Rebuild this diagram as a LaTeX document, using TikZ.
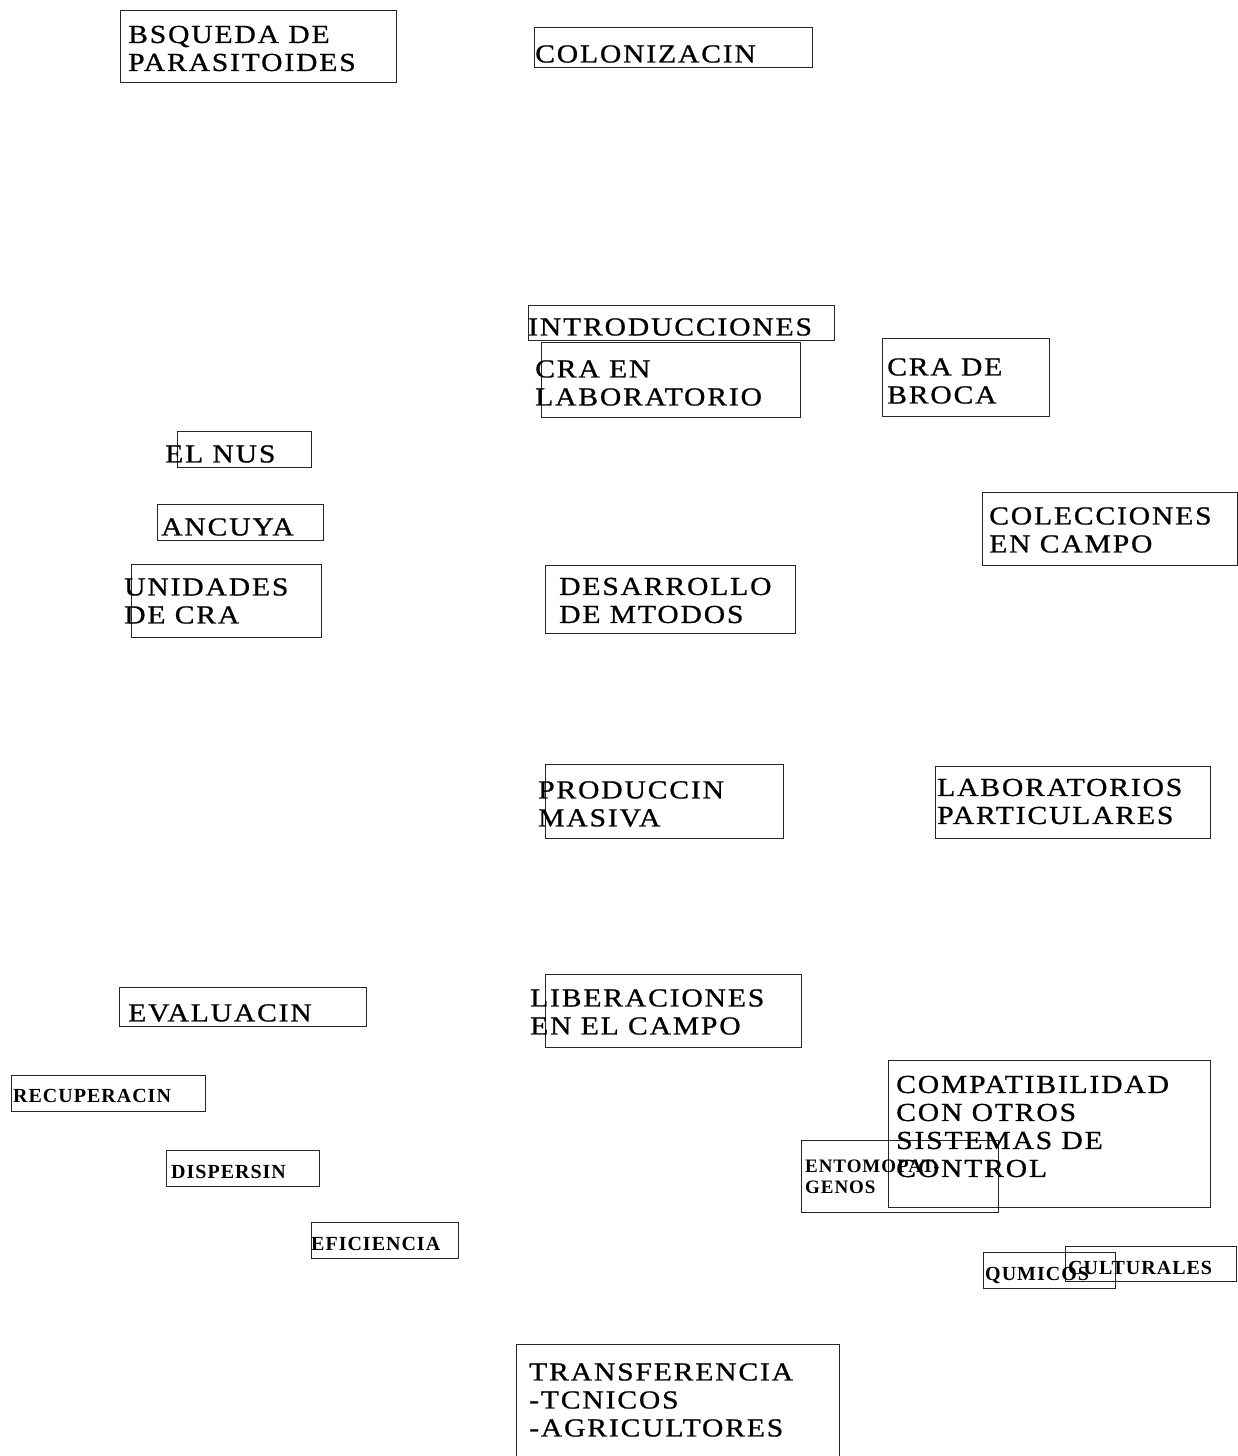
\documentclass[tikz,border=0pt]{standalone}
\usepackage{fontspec}
\setmainfont{Liberation Serif}
\newfontfamily\mainf[FakeStretch=1.14,LetterSpace=7,FakeBold=0.8]{Liberation Serif}
\newfontfamily\smallf[LetterSpace=5]{Liberation Serif}
\tikzset{
  box/.style={draw=black!85, line width=0.9pt, inner sep=0pt, anchor=north west},
  txt/.style={inner sep=0pt, anchor=west, align=left, font=\mainf\fontsize{26}{28}\selectfont},
  stxt/.style={inner sep=0pt, anchor=west, align=left, font=\smallf\bfseries\fontsize{20}{21}\selectfont},
}
\newcommand{\bx}[5]{\node[box, minimum width=#3-#1, minimum height=#4-#2] (#5) at (#1,#2) {};}
\begin{document}
\begin{tikzpicture}[x=1pt,y=-1pt]
\useasboundingbox (0,0) rectangle (1238,1456);
\clip (0,0) rectangle (1238,1456);
% boxes
\bx{120}{10}{396}{82}{b1}
\bx{534}{27}{812}{67}{b2}
\bx{528}{305}{834}{340}{b3}
\bx{541}{342}{800}{417}{b4}
\bx{882}{338}{1049}{416}{b5}
\bx{177}{431}{311}{467}{b6}
\bx{157}{504}{323}{540}{b7}
\bx{131}{564}{321}{637}{b8}
\bx{982}{492}{1237}{565}{b9}
\bx{545}{565}{795}{633}{b10}
\bx{545}{764}{783}{838}{b11}
\bx{935}{766}{1210}{838}{b12}
\bx{119}{987}{366}{1026}{b13}
\bx{545}{974}{801}{1047}{b14}
\bx{11}{1075}{205}{1111}{b15}
\bx{166}{1150}{319}{1186}{b16}
\bx{311}{1222}{458}{1258}{b17}
\bx{888}{1060}{1210}{1207}{b18}
\bx{801}{1140}{998}{1212}{b19}
\bx{983}{1252}{1115}{1288}{b20}
\bx{1065}{1246}{1236}{1281}{b21}
\bx{516}{1344}{839}{1480}{b22}
% texts
\node[txt] (t1) at (128,48.5) {BSQUEDA DE\\PARASITOIDES};
\node[txt] (t2) at (535,54) {COLONIZACIN};
\node[txt] (t3) at (528,327) {INTRODUCCIONES};
\node[txt] (t4) at (535,383) {CRA EN\\LABORATORIO};
\node[txt] (t5) at (887,381) {CRA DE\\BROCA};
\node[txt] (t6) at (165,454) {EL NUS};
\node[txt] (t7) at (161,527) {ANCUYA};
\node[txt] (t8) at (124,601) {UNIDADES\\DE CRA};
\node[txt] (t9) at (989,530) {COLECCIONES\\EN CAMPO};
\node[txt] (t10) at (559,600.5) {DESARROLLO\\DE MTODOS};
\node[txt] (t11) at (538,804) {PRODUCCIN\\MASIVA};
\node[txt] (t12) at (937,801.5) {LABORATORIOS\\PARTICULARES};
\node[txt] (t13) at (128,1013) {EVALUACIN};
\node[txt] (t14) at (530,1012) {LIBERACIONES\\EN EL CAMPO};
\node[stxt] (t15) at (13,1096) {RECUPERACIN};
\node[stxt] (t16) at (171,1172) {DISPERSIN};
\node[stxt] (t17) at (311,1244) {EFICIENCIA};
\node[txt] (t18) at (896,1126.5) {COMPATIBILIDAD\\CON OTROS\\SISTEMAS DE\\CONTROL};
\node[stxt, font=\smallf\bfseries\fontsize{19}{21}\selectfont] (t19) at (805,1176.5) {ENTOMOPAT-\\GENOS};
\node[stxt] (t20) at (985,1275) {QUMICOS};
\node[stxt] (t21) at (1068,1268) {CULTURALES};
\node[txt] (t22) at (529,1400) {TRANSFERENCIA\\-TCNICOS\\-AGRICULTORES};
\end{tikzpicture}
\end{document}
